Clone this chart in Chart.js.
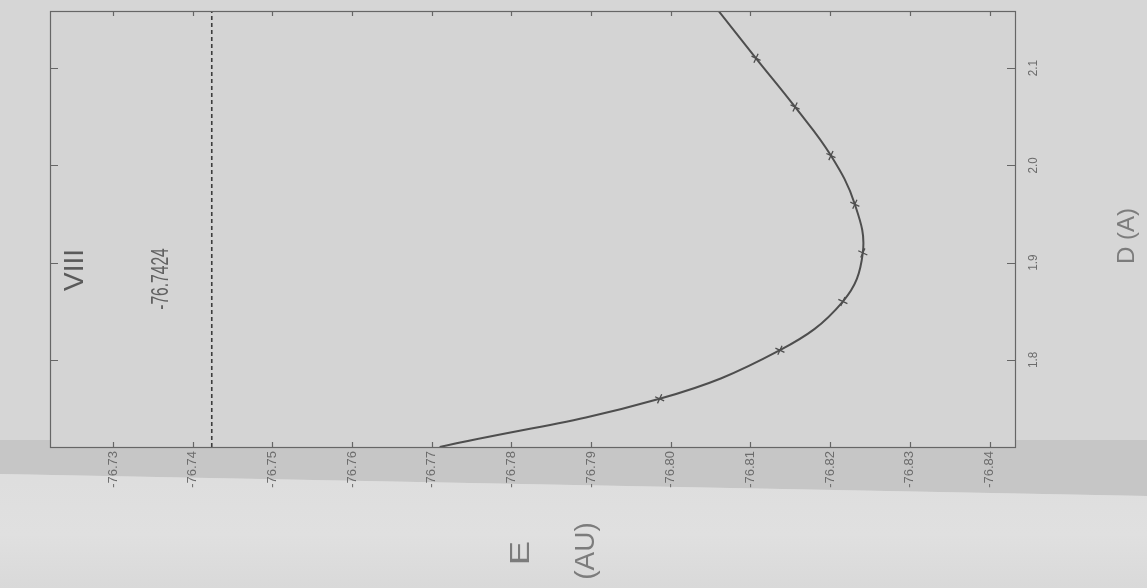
<!DOCTYPE html>
<html>
<head>
<meta charset="utf-8">
<script src="https://cdn.jsdelivr.net/npm/chart.js@4.4.1/dist/chart.umd.min.js"></script>
<style>
  html, body { margin: 0; padding: 0; background: #d5d5d5; }
  #wrap { width: 1147px; height: 588px; }
</style>
</head>
<body>
<div id="wrap"><canvas id="chart" width="1147" height="588"></canvas></div>
<script>
// curve: D in angstrom, E in hartree (ends are where it leaves the frame)
const curveD = [1.7105, 1.76, 1.81, 1.86, 1.91, 1.96, 2.01, 2.06, 2.11, 2.1586];
const curveE = [-76.7710, -76.7986, -76.8137, -76.8216, -76.8241, -76.8231, -76.8201, -76.8156, -76.8107, -76.8060];

// the computed points (crosses)
const pointD = [1.76, 1.81, 1.86, 1.91, 1.96, 2.01, 2.06, 2.11];
const pointE = [-76.7986, -76.8137, -76.8216, -76.8241, -76.8231, -76.8201, -76.8156, -76.8107];

const refEnergy = -76.7424;
const energyTicks = [-76.73, -76.74, -76.75, -76.76, -76.77, -76.78, -76.79, -76.80, -76.81, -76.82, -76.83, -76.84];
const distanceTicks = [1.8, 1.9, 2.0, 2.1];
const energyRange = [-76.8432, -76.7221];
const distanceRange = [1.7105, 2.1586];

const ink = '#4e4e4e';
const textGray = '#6c6c6c';

// text on the scanned sheet runs bottom to top; sx squeezes along the text
const vText = (ctx, text, x, y, font, color, sx = 1) => {
    ctx.save();
    ctx.translate(x, y);
    ctx.rotate(-Math.PI / 2);
    ctx.scale(sx, 1);
    ctx.font = font;
    ctx.fillStyle = color;
    ctx.textAlign = 'center';
    ctx.textBaseline = 'middle';
    ctx.fillText(text, 0, 0);
    ctx.restore();
};

const paperPlugin = {
    id: 'paper',
    beforeDraw(chart) {
        const ctx = chart.ctx;
        const w = chart.width, h = chart.height;
        ctx.save();
        ctx.fillStyle = '#d6d6d6';
        ctx.fillRect(0, 0, w, h);
        // darker shading band under the frame
        ctx.fillStyle = '#c6c6c6';
        ctx.beginPath();
        ctx.moveTo(0, 440);
        ctx.lineTo(w, 440);
        ctx.lineTo(w, 496);
        ctx.lineTo(0, 474);
        ctx.closePath();
        ctx.fill();
        // lighter paper below it
        const g = ctx.createLinearGradient(0, 480, 0, h);
        g.addColorStop(0, '#dedede');
        g.addColorStop(0.5, '#e0e0e0');
        g.addColorStop(1, '#d9d9d9');
        ctx.fillStyle = g;
        ctx.beginPath();
        ctx.moveTo(0, 474);
        ctx.lineTo(w, 496);
        ctx.lineTo(w, h);
        ctx.lineTo(0, h);
        ctx.closePath();
        ctx.fill();
        const a = chart.chartArea;
        ctx.fillStyle = '#d4d4d4';
        ctx.fillRect(a.left, a.top, a.width, a.height);
        ctx.restore();
    },
    afterDraw(chart) {
        const ctx = chart.ctx;
        const a = chart.chartArea;
        const xs = chart.scales.x, ys = chart.scales.y;
        ctx.save();
        ctx.strokeStyle = '#666';
        ctx.lineWidth = 1.2;
        ctx.strokeRect(a.left + 0.5, a.top + 0.5, a.width, a.height);

        // inward tick marks on all four sides
        ctx.beginPath();
        energyTicks.forEach(v => {
            const px = Math.round(xs.getPixelForValue(v)) + 0.5;
            ctx.moveTo(px, a.top); ctx.lineTo(px, a.top + 5);
            ctx.moveTo(px, a.bottom); ctx.lineTo(px, a.bottom - 5);
        });
        distanceTicks.forEach(v => {
            const py = Math.round(ys.getPixelForValue(v)) + 0.5;
            ctx.moveTo(a.left, py); ctx.lineTo(a.left + 8, py);
            ctx.moveTo(a.right, py); ctx.lineTo(a.right - 8, py);
        });
        ctx.stroke();

        distanceTicks.forEach(v => {
            vText(ctx, v.toFixed(1), a.right + 18, ys.getPixelForValue(v), '13px "Liberation Sans"', textGray, 0.9);
        });

        vText(ctx, refEnergy.toFixed(4), xs.getPixelForValue(refEnergy) - 50, 279, '24px "Liberation Sans"', '#616161', 0.65);
        vText(ctx, 'VIII', 75, 270, '28px "Liberation Sans"', '#5a5a5a');
        vText(ctx, 'E', 521, 553, '28px "Liberation Sans"', '#7c7c7c', 1.3);
        vText(ctx, '(AU)', 586, 551, '28px "Liberation Sans"', '#7c7c7c');
        vText(ctx, 'D (A)', 1127, 236, '24px "Liberation Sans"', '#7c7c7c');
        ctx.restore();
    }
};

new Chart(document.getElementById('chart'), {
    type: 'scatter',
    data: {
        datasets: [
            {
                label: 'E(D)',
                data: curveD.map((d, i) => ({ x: curveE[i], y: d })),
                showLine: true,
                tension: 0.4,
                borderColor: ink,
                borderWidth: 2,
                pointRadius: 0
            },
            {
                label: 'points',
                data: pointD.map((d, i) => ({ x: pointE[i], y: d })),
                showLine: false,
                pointStyle: 'cross',
                rotation: 25,
                pointRadius: 5,
                borderWidth: 1.3,
                borderColor: ink
            },
            {
                label: 'ref',
                data: [{ x: refEnergy, y: distanceRange[0] }, { x: refEnergy, y: distanceRange[1] }],
                showLine: true,
                borderColor: '#3c3c3c',
                borderWidth: 1.6,
                borderDash: [4, 3],
                pointRadius: 0
            }
        ]
    },
    options: {
        responsive: false,
        animation: false,
        devicePixelRatio: 1,
        layout: { padding: { left: 50, top: 11, right: 0, bottom: 0 } },
        plugins: { legend: { display: false }, tooltip: { enabled: false } },
        scales: {
            x: {
                type: 'linear',
                position: 'bottom',
                reverse: true,
                min: energyRange[0],
                max: energyRange[1],
                afterBuildTicks: s => { s.ticks = energyTicks.map(v => ({ value: v })); },
                afterFit: s => { s.height = 141; },
                grid: { display: false, drawTicks: false },
                border: { display: false },
                ticks: {
                    autoSkip: false,
                    minRotation: 90,
                    maxRotation: 90,
                    padding: 4,
                    color: textGray,
                    font: { family: 'Liberation Sans', size: 13 },
                    callback: v => v.toFixed(2)
                }
            },
            y: {
                type: 'linear',
                position: 'right',
                min: distanceRange[0],
                max: distanceRange[1],
                afterBuildTicks: s => { s.ticks = distanceTicks.map(v => ({ value: v })); },
                afterFit: s => { s.width = 132; },
                grid: { display: false, drawTicks: false },
                border: { display: false },
                ticks: { display: false }
            }
        }
    },
    plugins: [paperPlugin]
});
</script>
</body>
</html>
